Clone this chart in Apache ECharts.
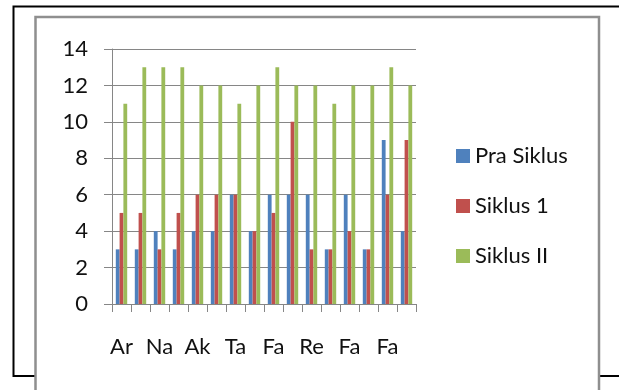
<!DOCTYPE html>
<html>
<head>
<meta charset="utf-8">
<script src="https://cdn.jsdelivr.net/npm/echarts@6/dist/echarts.min.js"></script>
<style>
html,body{margin:0;padding:0;background:#fff;}
#chart{width:619px;height:390px;}
</style>
</head>
<body>
<div id="chart"></div>
<script>
const categories = ['Ar','','Na','','Ak','','Ta','','Fa','','Re','','Fa','','Fa',''];
const praSiklus = [3,3,4,3,4,4,6,4,6,6,6,3,6,3,9,4];
const siklus1   = [5,5,3,5,6,6,6,4,5,10,3,3,4,3,6,9];
const siklus2   = [11,13,13,13,12,12,11,12,13,12,12,11,12,12,13,12];
const seriesNames = ['Pra Siklus','Siklus 1','Siklus II'];
const yTicks = {min:0, max:14, interval:2};

const FONT = 'Lato';
const chart = echarts.init(document.getElementById('chart'), null, {renderer:'canvas'});
const gray = '#868686';
chart.setOption({
  animation:false,
  backgroundColor:'#fff',
  color:['#4F81BD','#C0504D','#9BBB59'],
  textStyle:{fontFamily:FONT},
  graphic:[
    {type:'rect', z:-10, shape:{x:13.5,y:6.5,width:640,height:369.5}, style:{fill:'#fff', stroke:'#000', lineWidth:2}},
    {type:'rect', z:-9, shape:{x:35.5,y:17,width:563.5,height:400}, style:{fill:'#fff', stroke:'#8f8f8f', lineWidth:2.5}}
  ],
  grid:{left:112, right:203, top:49, bottom:86, containLabel:false},
  legend:{
    orient:'vertical', left:456, top:145, icon:'rect', padding:0,
    itemWidth:14, itemHeight:14, itemGap:28,
    textStyle:{fontSize:22, lineHeight:22, color:'#111', fontFamily:FONT, padding:[0,0,0,0]},
    data:seriesNames
  },
  xAxis:{
    type:'category', data:categories, boundaryGap:true,
    axisLine:{lineStyle:{color:gray, width:1}},
    axisTick:{show:true, length:8, interval:0, alignWithLabel:false, lineStyle:{color:gray}},
    axisLabel:{interval:0, fontSize:22, color:'#111', margin:32, fontFamily:FONT},
    splitLine:{show:false}
  },
  yAxis:{
    type:'value', min:yTicks.min, max:yTicks.max, interval:yTicks.interval,
    axisLine:{show:true, lineStyle:{color:gray, width:1}},
    axisTick:{show:true, length:8, lineStyle:{color:gray}},
    axisLabel:{fontSize:22, color:'#111', margin:24, fontFamily:FONT},
    splitLine:{show:true, lineStyle:{color:gray, width:1}}
  },
  series:[
    {name:seriesNames[0], type:'bar', data:praSiklus, barGap:'0%', barCategoryGap:'40%'},
    {name:seriesNames[1], type:'bar', data:siklus1, barGap:'0%', barCategoryGap:'40%'},
    {name:seriesNames[2], type:'bar', data:siklus2, barGap:'0%', barCategoryGap:'40%'}
  ]
});
</script>
</body>
</html>
